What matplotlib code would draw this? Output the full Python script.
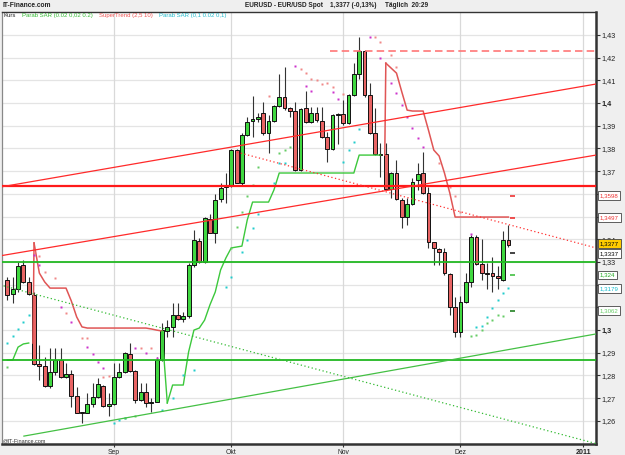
import matplotlib
matplotlib.use("Agg")
import matplotlib.pyplot as plt
from matplotlib.patches import Rectangle
from matplotlib.transforms import blended_transform_factory
import numpy as np

plt.rcParams['font.family'] = ['Liberation Sans', 'DejaVu Sans']

# ---------------- data: EUR/USD daily candles (trading-day index 0 = 4 Aug 2010) ----------------
opens = [1.3221, 1.3158, 1.3180, 1.3287, 1.3213, 1.3155, 1.2850, 1.2842, 1.2755, 1.2814,
         1.2868, 1.2795, 1.2807, 1.2711, 1.2640, 1.2635, 1.2674, 1.2704, 1.2754, 1.2665,
         1.2676, 1.2795, 1.2814, 1.2895, 1.2819, 1.2692, 1.2726, 1.2677, 1.2684, 1.2868,
         1.2996, 1.3012, 1.3066, 1.3047, 1.3063, 1.3287, 1.3394, 1.3301, 1.3488, 1.3429,
         1.3576, 1.3632, 1.3635, 1.3794, 1.3650, 1.3860, 1.3920, 1.3929, 1.3955, 1.3867,
         1.3922, 1.3987, 1.4028, 1.3977, 1.3965, 1.3705, 1.3977, 1.3915, 1.3955, 1.3922,
         1.3849, 1.3797, 1.3948, 1.3952, 1.3911, 1.4036, 1.4128, 1.4230, 1.4036, 1.3867,
         1.3776, 1.3776, 1.3620, 1.3693, 1.3573, 1.3497, 1.3556, 1.3661, 1.3690, 1.3603,
         1.3387, 1.3357, 1.3343, 1.3247, 1.3100, 1.2993, 1.3125, 1.3213, 1.3411, 1.3290,
         1.3250, 1.3250, 1.3240, 1.3221, 1.3397]
highs = [1.3235, 1.3235, 1.3301, 1.3309, 1.3235, 1.3169, 1.2934, 1.2883, 1.2920, 1.2920,
         1.2920, 1.2854, 1.2824, 1.2751, 1.2640, 1.2721, 1.2765, 1.2788, 1.2758, 1.2721,
         1.2854, 1.2854, 1.2905, 1.2942, 1.2824, 1.2765, 1.2765, 1.2700, 1.2883, 1.3030,
         1.3044, 1.3118, 1.3118, 1.3081, 1.3295, 1.3441, 1.3404, 1.3500, 1.3511, 1.3599,
         1.3647, 1.3691, 1.3797, 1.3797, 1.3867, 1.3940, 1.4031, 1.3955, 1.4006, 1.3947,
         1.3992, 1.4128, 1.4160, 1.3984, 1.4006, 1.3978, 1.4054, 1.3984, 1.3984, 1.3984,
         1.3874, 1.3950, 1.3955, 1.4014, 1.4040, 1.4175, 1.4290, 1.4234, 1.4087, 1.3977,
         1.3823, 1.3823, 1.3698, 1.3749, 1.3580, 1.3580, 1.3669, 1.3735, 1.3786, 1.3632,
         1.3390, 1.3360, 1.3360, 1.3250, 1.3147, 1.3150, 1.3250, 1.3419, 1.3419, 1.3400,
         1.3294, 1.3323, 1.3282, 1.3438, 1.3464]
lows = [1.3133, 1.3118, 1.3169, 1.3206, 1.3155, 1.2846, 1.2780, 1.2751, 1.2744, 1.2802,
        1.2788, 1.2788, 1.2662, 1.2633, 1.2589, 1.2633, 1.2662, 1.2700, 1.2662, 1.2623,
        1.2670, 1.2788, 1.2810, 1.2817, 1.2677, 1.2689, 1.2662, 1.2640, 1.2682, 1.2865,
        1.2971, 1.2971, 1.3044, 1.3037, 1.3053, 1.3279, 1.3294, 1.3294, 1.3426, 1.3382,
        1.3566, 1.3561, 1.3632, 1.3647, 1.3635, 1.3855, 1.3852, 1.3918, 1.3860, 1.3779,
        1.3918, 1.3984, 1.3970, 1.3940, 1.3702, 1.3702, 1.3911, 1.3911, 1.3918, 1.3845,
        1.3742, 1.3793, 1.3820, 1.3903, 1.3908, 1.4033, 1.4105, 1.4028, 1.3864, 1.3771,
        1.3676, 1.3617, 1.3580, 1.3573, 1.3448, 1.3463, 1.3551, 1.3617, 1.3600, 1.3360,
        1.3287, 1.3287, 1.3243, 1.3066, 1.2971, 1.2971, 1.3118, 1.3191, 1.3287, 1.3221,
        1.3180, 1.3169, 1.3180, 1.3218, 1.3367]
closes = [1.3155, 1.3180, 1.3282, 1.3213, 1.3159, 1.2850, 1.2842, 1.2755, 1.2814, 1.2868,
          1.2795, 1.2807, 1.2711, 1.2633, 1.2633, 1.2674, 1.2704, 1.2762, 1.2665, 1.2676,
          1.2795, 1.2814, 1.2898, 1.2821, 1.2692, 1.2726, 1.2677, 1.2684, 1.2868, 1.3000,
          1.3012, 1.3066, 1.3047, 1.3063, 1.3287, 1.3397, 1.3301, 1.3492, 1.3429, 1.3573,
          1.3625, 1.3639, 1.3794, 1.3650, 1.3860, 1.3918, 1.3929, 1.3940, 1.3867, 1.3922,
          1.3987, 1.4028, 1.3977, 1.3965, 1.3705, 1.3975, 1.3915, 1.3955, 1.3926, 1.3849,
          1.3797, 1.3948, 1.3951, 1.3911, 1.4036, 1.4128, 1.4230, 1.4036, 1.3867, 1.3776,
          1.3771, 1.3620, 1.3693, 1.3576, 1.3497, 1.3556, 1.3654, 1.3686, 1.3603, 1.3387,
          1.3360, 1.3343, 1.3250, 1.3100, 1.2993, 1.3125, 1.3213, 1.3411, 1.3290, 1.3250,
          1.3248, 1.3240, 1.3228, 1.3397, 1.3377]

nan = float('nan')
# SuperTrend (2,5 10): lower band (uptrend, green) and upper band (downtrend, red)
st_up = [1.2868, 1.2868, 1.2925, 1.2939, 1.2943] + [nan] * 25 + \
        [1.2679, 1.2758, 1.2758, 1.2758, 1.2904, 1.3000, 1.3009, 1.3044, 1.3111, 1.3168,
         1.3265, 1.3318, 1.3362, 1.3366, 1.3370, 1.3485, 1.3564, 1.3564, 1.3564, 1.3564,
         1.3617] + [1.3692] * 15 + [1.3771] * 5 + [nan] * 24
st_dn = [nan] * 5 + \
        [1.3384, 1.3251, 1.3212, 1.3185, 1.3185, 1.3185, 1.3185, 1.3128, 1.3058, 1.3014] + \
        [1.3009] * 12 + [1.3005, 1.3000, 1.2996] + [nan] * 41 + \
        [1.4176, 1.4154, 1.4132, 1.4049, 1.3969, 1.3965, 1.3965, 1.3965, 1.3881, 1.3793,
         1.3767, 1.3692, 1.3604] + [1.3498] * 11

# Parabolic SAR dots (index, value)
sar_fast_idx = [0, 1, 2, 3, 4, 5, 6, 10, 12, 15, 16, 17, 18, 20, 21, 22, 24, 26, 28, 29, 31, 33, 35,
                41, 42, 44, 45, 46, 47, 50, 51, 52, 54, 56, 57, 61, 62, 63, 64, 65, 66,
                68, 70, 72, 73, 74, 75, 76, 77, 78, 87, 88, 89, 90, 91, 92, 93, 94]
sar_fast_val = [1.2942, 1.2974, 1.3006, 1.3037, 1.3067, 1.3331, 1.3287, 1.3103, 1.3037, 1.2924,
                1.2895, 1.2861, 1.2832, 1.2592, 1.2604, 1.2611, 1.2920, 1.2898, 1.2876, 1.2648,
                1.2701, 1.2802, 1.2824, 1.3189, 1.3235, 1.3345, 1.3397, 1.3448, 1.3511, 1.3649,
                1.3735, 1.3735, 1.4163, 1.4075, 1.4055, 1.4048, 1.4017, 1.3742, 1.3793, 1.3830,
                1.3885, 1.4290, 1.4197, 1.4090, 1.4043, 1.3992, 1.3937, 1.3889, 1.3845, 1.3808,
                1.3423, 1.3015, 1.3018, 1.3056, 1.3096, 1.3133, 1.3162, 1.3184]
sar_slow_idx = [0, 5, 6, 7, 9, 11, 14, 15, 18, 19, 22, 24, 25, 27, 42, 43, 44, 45, 46, 47, 49,
                51, 52, 53, 55, 56, 57, 58, 59, 60, 61, 63, 69, 70, 72, 73, 81, 83, 84, 85,
                87, 88, 89, 90, 91, 92, 93]
sar_slow_val = [1.2839, 1.3345, 1.3326, 1.3257, 1.3228, 1.3074, 1.2964, 1.2964, 1.2793, 1.2798,
                1.2614, 1.2621, 1.2920, 1.2920, 1.3360, 1.3453, 1.3522, 1.3592, 1.3639, 1.3720,
                1.4031, 1.3779, 1.3793, 1.3808, 1.4150, 1.4134, 1.4105, 1.4102, 1.4084, 1.4087,
                1.4072, 1.4040, 1.4290, 1.4270, 1.4212, 1.4160, 1.3737, 1.3632, 1.3592, 1.3522,
                1.2974, 1.2978, 1.3000, 1.3033, 1.3044, 1.3067, 1.3063]

# drawn support / resistance levels and trend lines
red_level = 1.3636
red_dashed_level = 1.4231
red_dashed_start = 60.5
green_levels = [1.3299, 1.2868]
red_channel = [((-1.39, 1.3630), (110.43, 1.4084)), ((-1.39, 1.3327), (110.43, 1.3771))]
red_dotted = ((43.1, 1.3784), (110.43, 1.3362))
green_dotted = ((-1.39, 1.3199), (110.43, 1.2500))
green_rising = ((3.1, 1.2533), (110.43, 1.2983))

# next-bar indicator marks and right-axis value boxes
next_marks = [(1.3591, '#ee2222'), (1.3493, '#ee2222'), (1.3338, '#111111'),
              (1.3243, '#33bb33'), (1.3085, '#117711')]
value_boxes = [(1.3593, '1,3598', '#ee3333', 'white'), (1.3495, '1,3497', '#ee3333', 'white'),
               (1.3380, '1,3377', '#000000', '#ffcc00'), (1.3338, '1,3337', '#000000', 'white'),
               (1.3243, '1,324', '#22aa22', 'white'), (1.3184, '1,3179', '#11bbcc', 'white'),
               (1.3085, '1,3062', '#66cc66', 'white')]

# right-axis price grid (labels under the value boxes are hidden, as in the original)
ytick_vals = [1.26, 1.27, 1.28, 1.29, 1.30, 1.31, 1.32, 1.33, 1.34, 1.35, 1.36, 1.37,
              1.38, 1.39, 1.40, 1.41, 1.42, 1.43]
ytick_labels = ['1,26', '1,27', '1,28', '1,29', '1,3', '', '', '1,33', '1,34', '',
                '', '1,37', '1,38', '1,39', '1,4', '1,41', '1,42', '1,43']
xtick_idx = [20, 42, 63, 85, 108]
xtick_labels = ['Sep', 'Okt', 'Nov', 'Dez', '2011']

# ---------------- figure ----------------
W, H = 625, 455
fig = plt.figure(figsize=(W / 100, H / 100), dpi=100, facecolor='#efefef')
ax = fig.add_axes([2 / W, 11 / H, 594 / W, 432 / H])
ax.set_facecolor('white')
ax.set_xlim(-1.01, 110.43)
ax.set_ylim(1.24982, 1.44013)

for v in ytick_vals:
    ax.axhline(v, color='#e4e4e4', lw=0.9, zorder=0)
for v in xtick_idx:
    ax.axvline(v, color='#d9d9d9', lw=0.9, zorder=0)

# candles
bw = 0.72
for i, (o, h, l, c) in enumerate(zip(opens, highs, lows, closes)):
    ax.plot([i, i], [l, h], color='#333333', lw=0.8, zorder=3, solid_capstyle='butt')
    fc = '#40d840' if c >= o else '#e86464'
    ax.add_patch(Rectangle((i - bw / 2, min(o, c)), bw, max(abs(c - o), 0.0003),
                           facecolor=fc, edgecolor='#111111', lw=0.7, zorder=4))

# SuperTrend line
n = len(closes)
idx = np.arange(n)
up = np.array(st_up)
dn = np.array(st_dn)
GST, RST = '#3cc83c', '#e05555'
ax.plot(idx, up, color=GST, lw=1.0, zorder=5)
ax.plot(idx, dn, color=RST, lw=1.1, zorder=5)
for i in range(1, n):
    if np.isnan(up[i - 1]) and not np.isnan(up[i]) and not np.isnan(dn[i - 1]):
        ax.plot([i - 1, i], [dn[i - 1], up[i]], color=GST, lw=1.0, zorder=5)
    if np.isnan(dn[i - 1]) and not np.isnan(dn[i]) and not np.isnan(up[i - 1]):
        ax.plot([i - 0.2, i], [up[i - 1], dn[i]], color=RST, lw=1.1, zorder=5)

# SAR dots
for i, v in zip(sar_fast_idx, sar_fast_val):
    col = '#cc33cc' if v > closes[i] else '#22cccc'
    ax.plot(i, v, 's', ms=1.5, color=col, mec='none', zorder=6)
for i, v in zip(sar_slow_idx, sar_slow_val):
    col = '#f08888' if v > closes[i] else '#66cc66'
    ax.plot(i, v, 's', ms=1.5, color=col, mec='none', zorder=6)

# drawings
xl = ax.get_xlim()
ax.plot(xl, [red_level] * 2, color='#ff1a1a', lw=1.6, zorder=7)
ax.plot([red_dashed_start, xl[1]], [red_dashed_level] * 2, color='#ff7777', lw=1.2,
        dashes=(4.5, 2.5), zorder=7)
for g in green_levels:
    ax.plot(xl, [g] * 2, color='#22b822', lw=1.3, zorder=7)
for (p0, p1) in red_channel:
    ax.plot([p0[0], p1[0]], [p0[1], p1[1]], color='#ff2a2a', lw=0.9, zorder=7)
ax.plot([red_dotted[0][0], red_dotted[1][0]], [red_dotted[0][1], red_dotted[1][1]],
        color='#ff3333', lw=0.9, ls=(0, (1, 2)), zorder=7)
ax.plot([green_dotted[0][0], green_dotted[1][0]], [green_dotted[0][1], green_dotted[1][1]],
        color='#33bb33', lw=0.9, ls=(0, (1, 2)), zorder=7)
ax.plot([green_rising[0][0], green_rising[1][0]], [green_rising[0][1], green_rising[1][1]],
        color='#44c044', lw=0.9, zorder=7)

for v, col in next_marks:
    ax.plot([n - 0.7, n + 0.2], [v, v], color=col, lw=1.1, zorder=8, solid_capstyle='butt')

# axes styling
ax.yaxis.tick_right()
ax.set_yticks(ytick_vals)
ax.set_yticklabels(ytick_labels)
ax.set_xticks(xtick_idx)
ax.set_xticklabels(xtick_labels)
ax.tick_params(axis='y', length=3, width=0.8, color='#333333', labelsize=5.2, pad=1.0,
               labelcolor='#222222')
ax.tick_params(axis='x', length=2.5, width=0.8, color='#333333', labelsize=4.9, pad=0.8,
               labelcolor='#222222')
for t in ax.get_yticklabels():
    if t.get_text() in ('1,3', '1,4'):
        t.set_fontweight('bold')
for t in ax.get_xticklabels():
    if t.get_text() == '2011':
        t.set_fontweight('bold')
        t.set_fontsize(5.1)
ax.spines['left'].set_color('#888888')
ax.spines['left'].set_linewidth(0.9)
ax.spines['top'].set_color('#333333')
ax.spines['top'].set_linewidth(1.0)
ax.spines['right'].set_color('#333333')
ax.spines['right'].set_linewidth(1.8)
ax.spines['bottom'].set_color('#333333')
ax.spines['bottom'].set_linewidth(1.8)

trans = blended_transform_factory(ax.transAxes, ax.transData)
for v, txt, tc, fc in value_boxes:
    ax.text(1.0065, v, txt, transform=trans, fontsize=4.4, color=tc, va='center', ha='left',
            bbox=dict(boxstyle='square,pad=0.3', fc=fc, ec='#444444', lw=0.6),
            clip_on=False, zorder=20)

# header / legend texts
def ftext(x, y, s, size, **kw):
    fig.text(x / W, 1 - y / H, s, va='center', fontsize=size, **kw)

ftext(3, 5.5, 'IT-Finance.com', 4.8, fontweight='bold', color='#222222')
ftext(245, 5.5, 'EURUSD - EUR/USD Spot', 4.7, fontweight='bold', color='#222222')
ftext(330, 5.5, '1,3377 (-0,13%)', 4.7, fontweight='bold', color='#222222')
ftext(385, 5.5, 'Täglich  20:29', 4.7, fontweight='bold', color='#222222')

ftext(4, 15.5, 'Kurs', 4.3, color='#222222')
ftext(22.5, 15.5, 'Parab SAR (0.02 0,02 0.2)', 4.3, color='#33bb33')
ftext(99, 15.5, 'SuperTrend (2,5 10)', 4.3, color='#ee5555')
ftext(159, 15.5, 'Parab SAR (0,1 0.02 0,1)', 4.3, color='#22bbcc')
ftext(3, 441, '@IT-Finance.com', 4.0, color='#333333')

fig.savefig('out.png', dpi=100, facecolor=fig.get_facecolor())
